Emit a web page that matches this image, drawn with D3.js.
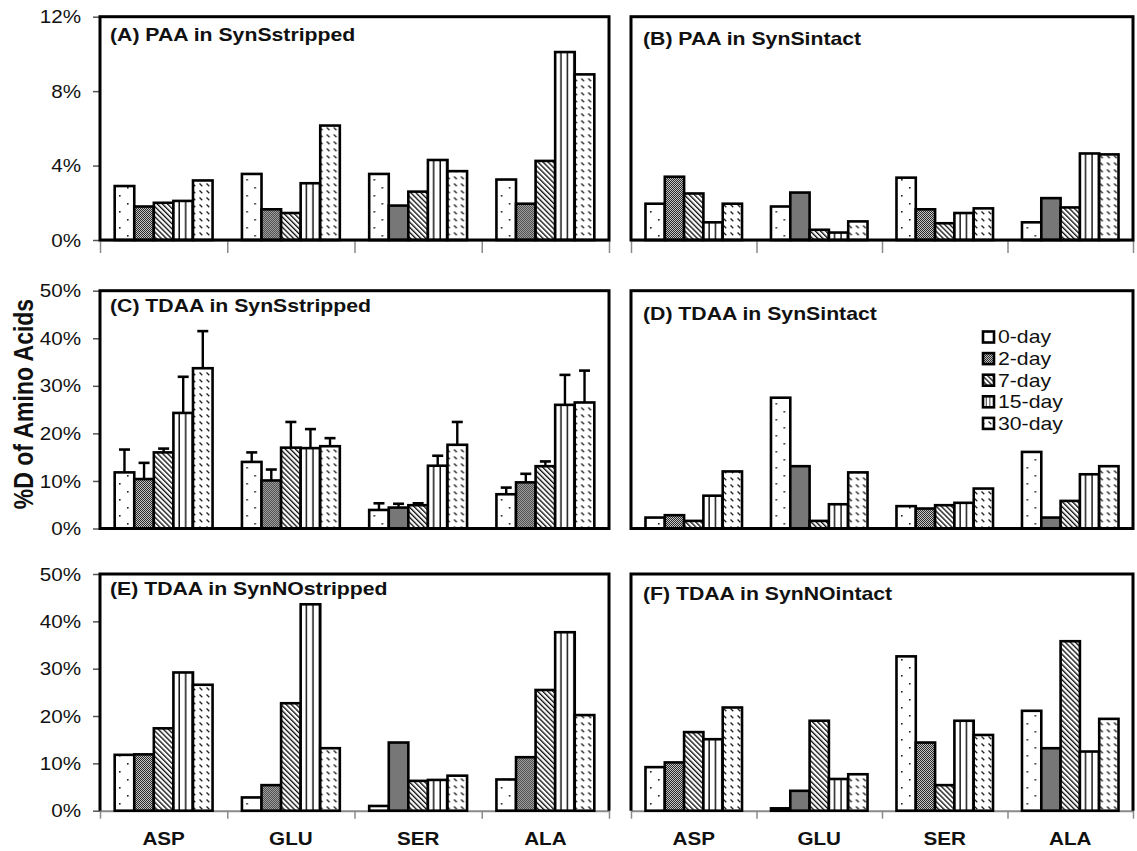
<!DOCTYPE html>
<html>
<head>
<meta charset="utf-8">
<script src="https://cdn.jsdelivr.net/npm/d3@7"></script>
<style>
  html, body { margin: 0; padding: 0; background: #fff; }
  svg { display: block; }
  text { font-family: "Liberation Sans", Arial, sans-serif; fill: #111; }
</style>
</head>
<body>
<script>
// ---- data -------------------------------------------------------------
const categories = ["ASP", "GLU", "SER", "ALA"];
const periods = ["0-day", "2-day", "7-day", "15-day", "30-day"];
const paaTicks = [0, 4, 8, 12];
const tdaaTicks = [0, 10, 20, 30, 40, 50];

// %D per amino acid (rows: ASP, GLU, SER, ALA; columns: 0,2,7,15,30 days)
const paaSynSstripped = [
  [2.9, 1.8, 2.0, 2.1, 3.2],
  [3.55, 1.65, 1.45, 3.05, 6.15],
  [3.55, 1.85, 2.6, 4.3, 3.7],
  [3.25, 1.95, 4.25, 10.1, 8.9]
];
const paaSynSintact = [
  [1.95, 3.4, 2.5, 0.95, 1.95],
  [1.8, 2.55, 0.55, 0.4, 1.0],
  [3.35, 1.65, 0.9, 1.45, 1.7],
  [0.95, 2.25, 1.75, 4.65, 4.6]
];
const tdaaSynSstripped = [
  [11.8, 10.4, 16.0, 24.3, 33.7],
  [14.0, 10.1, 17.0, 16.9, 17.3],
  [3.9, 4.4, 4.9, 13.2, 17.6],
  [7.2, 9.7, 13.1, 26.0, 26.5]
];
const tdaaSynSstrippedErr = [
  [4.8, 3.4, 0.8, 7.6, 7.8],
  [2.0, 2.3, 5.4, 4.0, 1.7],
  [1.4, 0.8, 0.4, 2.1, 4.8],
  [1.4, 1.8, 1.0, 6.3, 6.7]
];
const tdaaSynSintact = [
  [2.3, 2.8, 1.6, 6.9, 12.0],
  [27.5, 13.1, 1.6, 5.1, 11.8],
  [4.7, 4.2, 4.9, 5.4, 8.4],
  [16.1, 2.3, 5.8, 11.4, 13.1]
];
const tdaaSynNOstripped = [
  [11.8, 11.9, 17.4, 29.2, 26.6],
  [2.8, 5.4, 22.7, 43.6, 13.2],
  [1.0, 14.4, 6.3, 6.5, 7.4],
  [6.6, 11.3, 25.5, 37.7, 20.2]
];
const tdaaSynNOintact = [
  [9.2, 10.2, 16.6, 15.1, 21.8],
  [0.5, 4.2, 19.0, 6.7, 7.7],
  [32.6, 14.4, 5.4, 19.0, 16.0],
  [21.1, 13.2, 35.8, 12.5, 19.4]
];

// ---- layout -----------------------------------------------------------
const W = 1137, H = 851;
const K = 1.18;                 // horizontal stretch applied to all lettering
const cols = [{ l: 100, r: 609 }, { l: 631, r: 1133 }];
const rows = [{ t: 16.7, b: 240 }, { t: 290.7, b: 528.5 }, { t: 574, b: 810.7 }];

const panels = [
  { title: "(A) PAA in SynSstripped", values: paaSynSstripped, max: 12, ticks: paaTicks, col: 0, row: 0, titleY: 41, xTicks: true },
  { title: "(B) PAA in SynSintact", values: paaSynSintact, max: 12, ticks: null, col: 1, row: 0, titleY: 45, xTicks: true },
  { title: "(C) TDAA in SynSstripped", values: tdaaSynSstripped, err: tdaaSynSstrippedErr, max: 50, ticks: tdaaTicks, col: 0, row: 1, titleY: 312 },
  { title: "(D) TDAA in SynSintact", values: tdaaSynSintact, max: 50, ticks: null, col: 1, row: 1, titleY: 320, legend: true },
  { title: "(E) TDAA in SynNOstripped", values: tdaaSynNOstripped, max: 50, ticks: tdaaTicks, col: 0, row: 2, titleY: 595, xTicks: true, labels: true, openBottom: true },
  { title: "(F) TDAA in SynNOintact", values: tdaaSynNOintact, max: 50, ticks: null, col: 1, row: 2, titleY: 600, xTicks: true, labels: true, openBottom: true }
];

const svg = d3.select("body").append("svg")
  .attr("width", W).attr("height", H)
  .attr("viewBox", `0 0 ${W} ${H}`);

// ---- fill patterns, one per incubation period -------------------------
const defs = svg.append("defs");
const patId = i => `fill-${i}`;

// 0-day: sparse dots
{
  const p = defs.append("pattern").attr("id", patId(0))
    .attr("patternUnits", "userSpaceOnUse").attr("width", 16).attr("height", 16);
  p.append("rect").attr("width", 16).attr("height", 16).attr("fill", "#fff");
  p.append("rect").attr("x", 3).attr("y", 3).attr("width", 1.6).attr("height", 1.6).attr("fill", "#222");
  p.append("rect").attr("x", 11).attr("y", 11).attr("width", 1.6).attr("height", 1.6).attr("fill", "#222");
}
// 2-day: fine dark checkerboard
{
  const p = defs.append("pattern").attr("id", patId(1))
    .attr("patternUnits", "userSpaceOnUse").attr("width", 2).attr("height", 2);
  p.append("rect").attr("width", 2).attr("height", 2).attr("fill", "#c4c4c4");
  p.append("rect").attr("x", 0).attr("y", 0).attr("width", 1).attr("height", 1).attr("fill", "#2a2a2a");
  p.append("rect").attr("x", 1).attr("y", 1).attr("width", 1).attr("height", 1).attr("fill", "#2a2a2a");
}
// 7-day: dense downward diagonal stripes
{
  const s = 3.6;
  const p = defs.append("pattern").attr("id", patId(2))
    .attr("patternUnits", "userSpaceOnUse").attr("width", s).attr("height", s)
    .attr("patternTransform", "rotate(-45)");
  p.append("rect").attr("width", s).attr("height", s).attr("fill", "#fff");
  p.append("rect").attr("x", 0).attr("y", 0).attr("width", 1.35).attr("height", s).attr("fill", "#111");
}
// 15-day: vertical lines splitting each bar in thirds
{
  const p = defs.append("pattern").attr("id", patId(3))
    .attr("patternUnits", "objectBoundingBox").attr("patternContentUnits", "objectBoundingBox")
    .attr("width", 1 / 3).attr("height", 1);
  p.append("rect").attr("width", 1 / 3).attr("height", 1).attr("fill", "#fff");
  p.append("rect").attr("x", 1 / 3 - 0.075).attr("y", 0).attr("width", 0.075).attr("height", 1).attr("fill", "#111");
}
// 30-day: short diagonal dashes
{
  const s = 7;
  const p = defs.append("pattern").attr("id", patId(4))
    .attr("patternUnits", "userSpaceOnUse").attr("width", s).attr("height", s);
  p.append("rect").attr("width", s).attr("height", s).attr("fill", "#fff");
  p.append("path").attr("d", "M1.5,1.5L4.3,4.3").attr("stroke", "#222").attr("stroke-width", 1.3);
}

// lettering helper: text placed at (x,y) with the horizontal stretch
function label(parent, x, y, str, size, opts = {}) {
  const g = parent.append("g").attr("transform", `translate(${x},${y}) scale(${K},1)`);
  return g.append("text")
    .attr("font-size", size)
    .attr("font-weight", opts.bold ? "bold" : null)
    .attr("text-anchor", opts.anchor || "start")
    .attr("dominant-baseline", opts.baseline || null)
    .text(str);
}

// ---- panels -----------------------------------------------------------
panels.forEach(pn => {
  const L = cols[pn.col].l, R = cols[pn.col].r;
  const T = rows[pn.row].t, B = rows[pn.row].b;
  const g = svg.append("g");

  const x0 = d3.scaleBand().domain(categories).range([L, R]).padding(0);
  const x1 = d3.scaleBand().domain(periods).range([0, x0.bandwidth()])
    .paddingInner(0).paddingOuter(0.75);
  const y = d3.scaleLinear().domain([0, pn.max]).range([B, T]);
  const edge = d3.scaleLinear().domain([0, categories.length]).range([L, R]);

  // category boundary ticks below the baseline
  if (pn.xTicks) {
    const ax = g.append("g").attr("transform", `translate(0,${B})`)
      .call(d3.axisBottom(edge).tickValues(d3.range(categories.length + 1))
        .tickFormat("").tickSize(pn.openBottom ? 8 : 13).tickSizeOuter(0));
    ax.select(".domain").attr("stroke", "#8a8a8a").attr("stroke-width", 2);
    ax.selectAll(".tick line").attr("stroke", "#8a8a8a").attr("stroke-width", 1.5);
  }

  // y axis with percent labels
  if (pn.ticks) {
    const ay = g.append("g").attr("transform", `translate(${L},0)`)
      .call(d3.axisLeft(y).tickValues(pn.ticks).tickFormat(d => d + "%")
        .tickSize(7).tickSizeOuter(0));
    ay.select(".domain").remove();
    ay.selectAll(".tick line").attr("stroke", "#555").attr("stroke-width", 1.5);
    ay.selectAll(".tick text")
      .attr("font-family", '"Liberation Sans", Arial, sans-serif')
      .attr("font-size", 17.5).attr("fill", "#111")
      .attr("x", -19 / K).attr("dy", "0.35em")
      .attr("transform", `scale(${K},1)`);
  }

  // bars
  const groups = g.selectAll(".cat").data(pn.values).join("g")
    .attr("transform", (d, i) => `translate(${x0(categories[i])},0)`);
  groups.selectAll("rect").data(d => d).join("rect")
    .attr("x", (d, j) => x1(periods[j]))
    .attr("width", x1.bandwidth())
    .attr("y", d => y(d))
    .attr("height", d => B - y(d))
    .attr("fill", (d, j) => `url(#${patId(j)})`)
    .attr("stroke", "#000").attr("stroke-width", 2.6);

  // upward error bars
  if (pn.err) {
    pn.values.forEach((vals, i) => {
      vals.forEach((v, j) => {
        const cx = x0(categories[i]) + x1(periods[j]) + x1.bandwidth() / 2;
        const top = y(v + pn.err[i][j]);
        g.append("line").attr("x1", cx).attr("x2", cx).attr("y1", y(v)).attr("y2", top)
          .attr("stroke", "#000").attr("stroke-width", 2.4);
        g.append("line").attr("x1", cx - 5.5).attr("x2", cx + 5.5).attr("y1", top).attr("y2", top)
          .attr("stroke", "#000").attr("stroke-width", 2.6);
      });
    });
  }

  // panel frame
  if (pn.openBottom) {
    g.append("path").attr("d", `M${L},${B}V${T}H${R}V${B}`)
      .attr("fill", "none").attr("stroke", "#000").attr("stroke-width", 3);
  } else {
    g.append("rect").attr("x", L).attr("y", T).attr("width", R - L).attr("height", B - T)
      .attr("fill", "none").attr("stroke", "#000").attr("stroke-width", 3);
  }

  // panel title
  label(g, L + 10 + (pn.col ? 2 : 0), pn.titleY, pn.title, 18, { bold: true });

  // amino acid labels
  if (pn.labels) {
    categories.forEach(c => {
      label(g, x0(c) + x0.bandwidth() / 2, 845, c, 17.5, { bold: true, anchor: "middle" });
    });
  }

  // legend
  if (pn.legend) {
    const lg = g.append("g");
    periods.forEach((p, j) => {
      const cy = 337 + j * 21.6;
      lg.append("rect").attr("x", 983).attr("y", cy - 5.5).attr("width", 11).attr("height", 11)
        .attr("fill", `url(#${patId(j)})`).attr("stroke", "#000").attr("stroke-width", 2.6);
      label(lg, 998, cy, p, 18, { baseline: "central" });
    });
  }
});

// shared y axis title
svg.append("g").attr("transform", `translate(23,404) scale(${K},1) rotate(-90)`)
  .append("text")
  .attr("font-size", 23).attr("font-weight", "bold")
  .attr("text-anchor", "middle").attr("dominant-baseline", "central")
  .text("%D of Amino Acids");
</script>
</body>
</html>
